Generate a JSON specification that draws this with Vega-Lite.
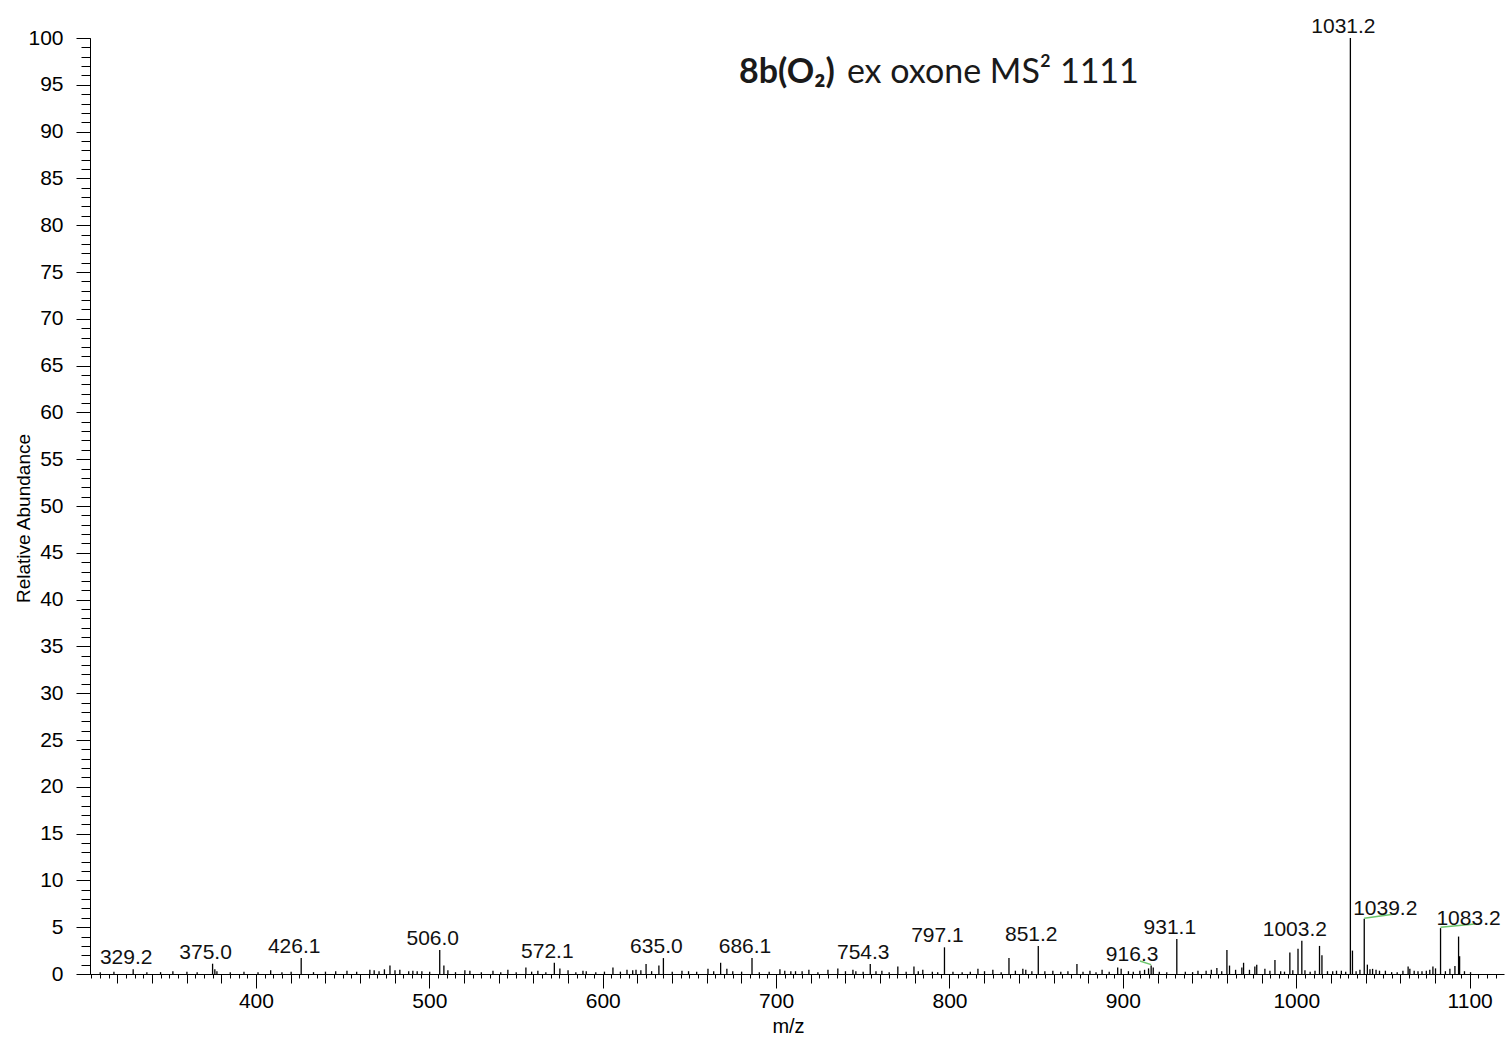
{
  "$schema": "https://vega.github.io/schema/vega-lite/v6.json",
  "width": 1414,
  "height": 936,
  "autosize": {"type": "none"},
  "padding": {"left": 90, "top": 38, "right": 4, "bottom": 66},
  "background": "white",
  "config": {
    "view": {"stroke": null},
    "axis": {
      "grid": false,
      "domainColor": "#000",
      "domainWidth": 1,
      "tickColor": "#000",
      "tickWidth": 1,
      "labelColor": "#000",
      "labelFont": "Liberation Sans",
      "labelFontSize": 21,
      "titleFont": "Liberation Sans",
      "titleFontSize": 20,
      "titleFontWeight": "normal",
      "titleColor": "#000",
      "labelFlush": false,
      "labelOverlap": false
    }
  },
  "datasets": {
    "peaks": [
      {"mz": 310.2, "ab": 0.2}, {"mz": 318.1, "ab": 0.25}, {"mz": 329.2, "ab": 0.5, "labeled": true},
      {"mz": 337.1, "ab": 0.2}, {"mz": 345.0, "ab": 0.2}, {"mz": 352.1, "ab": 0.3}, {"mz": 360.2, "ab": 0.25},
      {"mz": 366.1, "ab": 0.2}, {"mz": 375.0, "ab": 1.1, "labeled": true}, {"mz": 376.3, "ab": 0.5},
      {"mz": 377.5, "ab": 0.3}, {"mz": 385.2, "ab": 0.2}, {"mz": 393.1, "ab": 0.25}, {"mz": 401.2, "ab": 0.2},
      {"mz": 408.5, "ab": 0.4}, {"mz": 415.0, "ab": 0.2}, {"mz": 420.3, "ab": 0.25},
      {"mz": 426.1, "ab": 1.7, "labeled": true}, {"mz": 433.2, "ab": 0.2}, {"mz": 440.1, "ab": 0.25},
      {"mz": 446.0, "ab": 0.3}, {"mz": 452.5, "ab": 0.35}, {"mz": 458.1, "ab": 0.25}, {"mz": 465.7, "ab": 0.45},
      {"mz": 468.2, "ab": 0.4}, {"mz": 471.0, "ab": 0.3}, {"mz": 474.1, "ab": 0.5}, {"mz": 477.3, "ab": 0.9},
      {"mz": 480.2, "ab": 0.4}, {"mz": 483.0, "ab": 0.45}, {"mz": 488.1, "ab": 0.3}, {"mz": 490.5, "ab": 0.35},
      {"mz": 493.0, "ab": 0.3}, {"mz": 495.7, "ab": 0.3}, {"mz": 500.2, "ab": 0.25},
      {"mz": 506.0, "ab": 2.56, "labeled": true}, {"mz": 508.4, "ab": 0.9}, {"mz": 510.7, "ab": 0.4},
      {"mz": 515.1, "ab": 0.2}, {"mz": 520.5, "ab": 0.4}, {"mz": 523.4, "ab": 0.35}, {"mz": 530.0, "ab": 0.2},
      {"mz": 536.7, "ab": 0.35}, {"mz": 541.2, "ab": 0.2}, {"mz": 545.3, "ab": 0.45}, {"mz": 550.1, "ab": 0.2},
      {"mz": 555.7, "ab": 0.7}, {"mz": 559.0, "ab": 0.25}, {"mz": 562.6, "ab": 0.35}, {"mz": 567.2, "ab": 0.2},
      {"mz": 572.1, "ab": 1.2, "labeled": true}, {"mz": 575.3, "ab": 0.6}, {"mz": 580.0, "ab": 0.4},
      {"mz": 584.5, "ab": 0.2}, {"mz": 588.6, "ab": 0.35}, {"mz": 590.5, "ab": 0.3}, {"mz": 596.0, "ab": 0.2},
      {"mz": 601.0, "ab": 0.25}, {"mz": 605.9, "ab": 0.7}, {"mz": 610.2, "ab": 0.25}, {"mz": 614.0, "ab": 0.45},
      {"mz": 617.3, "ab": 0.4}, {"mz": 619.2, "ab": 0.45}, {"mz": 622.0, "ab": 0.4}, {"mz": 625.0, "ab": 1.07},
      {"mz": 628.2, "ab": 0.3}, {"mz": 632.4, "ab": 0.9}, {"mz": 635.0, "ab": 1.7, "labeled": true},
      {"mz": 640.1, "ab": 0.25}, {"mz": 645.7, "ab": 0.35}, {"mz": 649.5, "ab": 0.3}, {"mz": 654.2, "ab": 0.25},
      {"mz": 660.7, "ab": 0.55}, {"mz": 664.0, "ab": 0.3}, {"mz": 668.0, "ab": 1.2}, {"mz": 671.6, "ab": 0.55},
      {"mz": 675.0, "ab": 0.3}, {"mz": 680.1, "ab": 0.25}, {"mz": 686.1, "ab": 1.7, "labeled": true},
      {"mz": 690.3, "ab": 0.2}, {"mz": 696.0, "ab": 0.25}, {"mz": 702.2, "ab": 0.5}, {"mz": 705.0, "ab": 0.35},
      {"mz": 708.5, "ab": 0.3}, {"mz": 711.2, "ab": 0.3}, {"mz": 715.0, "ab": 0.3}, {"mz": 718.9, "ab": 0.45},
      {"mz": 724.1, "ab": 0.2}, {"mz": 729.9, "ab": 0.45}, {"mz": 735.6, "ab": 0.6}, {"mz": 740.0, "ab": 0.3},
      {"mz": 744.3, "ab": 0.45}, {"mz": 746.0, "ab": 0.3}, {"mz": 750.2, "ab": 0.25},
      {"mz": 754.3, "ab": 1.07, "labeled": true}, {"mz": 757.6, "ab": 0.3}, {"mz": 761.0, "ab": 0.35},
      {"mz": 765.2, "ab": 0.2}, {"mz": 770.2, "ab": 0.8}, {"mz": 775.0, "ab": 0.25}, {"mz": 779.5, "ab": 0.8},
      {"mz": 782.0, "ab": 0.3}, {"mz": 784.6, "ab": 0.45}, {"mz": 790.1, "ab": 0.25}, {"mz": 793.2, "ab": 0.2},
      {"mz": 797.1, "ab": 2.85, "labeled": true}, {"mz": 802.0, "ab": 0.25}, {"mz": 807.3, "ab": 0.2},
      {"mz": 812.0, "ab": 0.25}, {"mz": 816.4, "ab": 0.55}, {"mz": 820.2, "ab": 0.3}, {"mz": 825.0, "ab": 0.45},
      {"mz": 829.8, "ab": 0.2}, {"mz": 834.3, "ab": 1.7}, {"mz": 838.0, "ab": 0.35}, {"mz": 842.3, "ab": 0.55},
      {"mz": 844.0, "ab": 0.45}, {"mz": 847.5, "ab": 0.3}, {"mz": 851.2, "ab": 3.0, "labeled": true},
      {"mz": 855.0, "ab": 0.3}, {"mz": 859.6, "ab": 0.35}, {"mz": 864.2, "ab": 0.25}, {"mz": 868.3, "ab": 0.3},
      {"mz": 873.5, "ab": 1.07}, {"mz": 877.0, "ab": 0.25}, {"mz": 881.0, "ab": 0.35}, {"mz": 884.5, "ab": 0.2},
      {"mz": 888.0, "ab": 0.45}, {"mz": 892.1, "ab": 0.25}, {"mz": 897.0, "ab": 0.7}, {"mz": 899.0, "ab": 0.55},
      {"mz": 903.2, "ab": 0.3}, {"mz": 906.0, "ab": 0.25}, {"mz": 909.8, "ab": 0.35}, {"mz": 912.5, "ab": 0.45},
      {"mz": 914.8, "ab": 0.6}, {"mz": 916.3, "ab": 0.9, "labeled": true}, {"mz": 917.5, "ab": 0.7},
      {"mz": 921.0, "ab": 0.25}, {"mz": 925.3, "ab": 0.2}, {"mz": 931.1, "ab": 3.74, "labeled": true},
      {"mz": 936.0, "ab": 0.25}, {"mz": 940.2, "ab": 0.2}, {"mz": 943.3, "ab": 0.35}, {"mz": 948.0, "ab": 0.35},
      {"mz": 951.0, "ab": 0.45}, {"mz": 954.2, "ab": 0.65}, {"mz": 957.0, "ab": 0.3}, {"mz": 960.0, "ab": 2.56},
      {"mz": 961.5, "ab": 0.9}, {"mz": 965.0, "ab": 0.45}, {"mz": 968.6, "ab": 0.7}, {"mz": 969.6, "ab": 1.2},
      {"mz": 973.0, "ab": 0.45}, {"mz": 976.1, "ab": 0.8}, {"mz": 977.2, "ab": 1.0}, {"mz": 981.9, "ab": 0.55},
      {"mz": 984.8, "ab": 0.35}, {"mz": 987.7, "ab": 1.5}, {"mz": 991.0, "ab": 0.3}, {"mz": 993.2, "ab": 0.25},
      {"mz": 996.3, "ab": 2.3}, {"mz": 998.0, "ab": 0.4}, {"mz": 1001.0, "ab": 2.7},
      {"mz": 1003.2, "ab": 3.56, "labeled": true}, {"mz": 1005.0, "ab": 0.4}, {"mz": 1008.0, "ab": 0.25},
      {"mz": 1010.8, "ab": 0.35}, {"mz": 1013.4, "ab": 3.0}, {"mz": 1014.8, "ab": 2.0}, {"mz": 1018.0, "ab": 0.3},
      {"mz": 1021.0, "ab": 0.3}, {"mz": 1023.2, "ab": 0.35}, {"mz": 1026.0, "ab": 0.35}, {"mz": 1028.5, "ab": 0.25},
      {"mz": 1031.2, "ab": 100, "labeled": true}, {"mz": 1032.4, "ab": 2.5}, {"mz": 1034.5, "ab": 0.3},
      {"mz": 1036.7, "ab": 0.45}, {"mz": 1039.2, "ab": 5.9, "labeled": true}, {"mz": 1041.0, "ab": 1.0},
      {"mz": 1042.5, "ab": 0.5}, {"mz": 1044.0, "ab": 0.55}, {"mz": 1046.0, "ab": 0.45}, {"mz": 1048.0, "ab": 0.35},
      {"mz": 1051.4, "ab": 0.35}, {"mz": 1055.0, "ab": 0.2}, {"mz": 1058.2, "ab": 0.2}, {"mz": 1061.5, "ab": 0.35},
      {"mz": 1064.5, "ab": 0.8}, {"mz": 1065.5, "ab": 0.55}, {"mz": 1068.0, "ab": 0.35}, {"mz": 1070.2, "ab": 0.3},
      {"mz": 1072.5, "ab": 0.3}, {"mz": 1075.0, "ab": 0.35}, {"mz": 1077.0, "ab": 0.45}, {"mz": 1078.8, "ab": 0.8},
      {"mz": 1080.3, "ab": 0.6}, {"mz": 1083.2, "ab": 4.9, "labeled": true}, {"mz": 1086.0, "ab": 0.3},
      {"mz": 1088.6, "ab": 0.55}, {"mz": 1091.5, "ab": 0.85}, {"mz": 1093.6, "ab": 4.0}, {"mz": 1094.2, "ab": 1.9},
      {"mz": 1097.0, "ab": 0.3}, {"mz": 1100.5, "ab": 0.2}
    ],
    "leaders": [
      {"mz": 909.8, "ab": 1.39, "mz2": 916.3, "ab2": 1.0},
      {"mz": 1039.2, "ab": 5.95, "mz2": 1056.9, "ab2": 6.4},
      {"mz": 1083.2, "ab": 5.0, "mz2": 1103.0, "ab2": 5.34}
    ]
  },
  "resolve": {"axis": {"x": "independent", "y": "independent"}},
  "layer": [
    {
      "data": {"name": "peaks"},
      "mark": {"type": "rule", "color": "#000", "strokeWidth": 1.3},
      "encoding": {
        "x": {
          "field": "mz", "type": "quantitative",
          "scale": {"domain": [304.3, 1119.8], "nice": false, "zero": false},
          "axis": {
            "orient": "bottom",
            "values": [400, 500, 600, 700, 800, 900, 1000, 1100],
            "format": "d",
            "tickSize": 14,
            "labelPadding": 2,
            "title": "m/z",
            "titleX": 698,
            "titleY": 52,
            "titleAlign": "center",
            "titleBaseline": "middle"
          }
        },
        "y": {
          "field": "ab", "type": "quantitative",
          "scale": {"domain": [0, 100], "nice": false},
          "axis": {
            "orient": "left",
            "values": [0, 5, 10, 15, 20, 25, 30, 35, 40, 45, 50, 55, 60, 65, 70, 75, 80, 85, 90, 95, 100],
            "format": "d",
            "tickSize": 14,
            "labelPadding": 13,
            "title": "Relative Abundance",
            "titleFontSize": 19,
            "titleAngle": -90,
            "titleX": -67,
            "titleY": 480,
            "titleAlign": "center",
            "titleBaseline": "middle"
          }
        },
        "y2": {"datum": 0}
      }
    },
    {
      "data": {"name": "peaks"},
      "transform": [
        {"filter": "datum.labeled === true && datum.mz !== 916.3 && datum.mz !== 1039.2 && datum.mz !== 1083.2"}
      ],
      "mark": {"type": "text", "font": "Liberation Sans", "fontSize": 21, "color": "#111", "align": "center", "baseline": "alphabetic", "dx": -7, "dy": -5},
      "encoding": {
        "x": {
          "field": "mz", "type": "quantitative",
          "scale": {"domain": [304.3, 1119.8], "nice": false, "zero": false},
          "axis": {
            "orient": "bottom",
            "values": [320, 340, 360, 380, 400, 420, 440, 460, 480, 500, 520, 540, 560, 580, 600, 620, 640, 660, 680, 700, 720, 740, 760, 780, 800, 820, 840, 860, 880, 900, 920, 940, 960, 980, 1000, 1020, 1040, 1060, 1080, 1100],
            "tickSize": 9,
            "labels": false,
            "domain": false,
            "title": null
          }
        },
        "y": {
          "field": "ab", "type": "quantitative",
          "scale": {"domain": [0, 100], "nice": false},
          "axis": {
            "orient": "left",
            "values": [0, 1, 2, 3, 4, 5, 6, 7, 8, 9, 10, 11, 12, 13, 14, 15, 16, 17, 18, 19, 20, 21, 22, 23, 24, 25, 26, 27, 28, 29, 30, 31, 32, 33, 34, 35, 36, 37, 38, 39, 40, 41, 42, 43, 44, 45, 46, 47, 48, 49, 50, 51, 52, 53, 54, 55, 56, 57, 58, 59, 60, 61, 62, 63, 64, 65, 66, 67, 68, 69, 70, 71, 72, 73, 74, 75, 76, 77, 78, 79, 80, 81, 82, 83, 84, 85, 86, 87, 88, 89, 90, 91, 92, 93, 94, 95, 96, 97, 98, 99, 100],
            "tickSize": 9,
            "labels": false,
            "domain": false,
            "title": null
          }
        },
        "text": {"field": "mz", "type": "quantitative", "format": ".1f"}
      }
    },
    {
      "data": {"name": "leaders"},
      "mark": {"type": "rule", "color": "#6cc66c", "strokeWidth": 1.5},
      "encoding": {
        "x": {
          "field": "mz", "type": "quantitative",
          "scale": {"domain": [304.3, 1119.8], "nice": false, "zero": false},
          "axis": {
            "orient": "bottom",
            "values": [305, 310, 315, 320, 325, 330, 335, 340, 345, 350, 355, 360, 365, 370, 375, 380, 385, 390, 395, 400, 405, 410, 415, 420, 425, 430, 435, 440, 445, 450, 455, 460, 465, 470, 475, 480, 485, 490, 495, 500, 505, 510, 515, 520, 525, 530, 535, 540, 545, 550, 555, 560, 565, 570, 575, 580, 585, 590, 595, 600, 605, 610, 615, 620, 625, 630, 635, 640, 645, 650, 655, 660, 665, 670, 675, 680, 685, 690, 695, 700, 705, 710, 715, 720, 725, 730, 735, 740, 745, 750, 755, 760, 765, 770, 775, 780, 785, 790, 795, 800, 805, 810, 815, 820, 825, 830, 835, 840, 845, 850, 855, 860, 865, 870, 875, 880, 885, 890, 895, 900, 905, 910, 915, 920, 925, 930, 935, 940, 945, 950, 955, 960, 965, 970, 975, 980, 985, 990, 995, 1000, 1005, 1010, 1015, 1020, 1025, 1030, 1035, 1040, 1045, 1050, 1055, 1060, 1065, 1070, 1075, 1080, 1085, 1090, 1095, 1100, 1105, 1110, 1115],
            "tickSize": 4,
            "labels": false,
            "domain": false,
            "title": null
          }
        },
        "x2": {"field": "mz2"},
        "y": {
          "field": "ab", "type": "quantitative",
          "scale": {"domain": [0, 100], "nice": false},
          "axis": null
        },
        "y2": {"field": "ab2"}
      }
    },
    {
      "data": {"name": "peaks"},
      "transform": [{"filter": "datum.mz === 916.3"}],
      "mark": {"type": "text", "font": "Liberation Sans", "fontSize": 21, "color": "#111", "align": "center", "baseline": "alphabetic", "dx": -19, "dy": -5},
      "encoding": {
        "x": {"field": "mz", "type": "quantitative", "scale": {"domain": [304.3, 1119.8], "nice": false, "zero": false}, "axis": null},
        "y": {"field": "ab", "type": "quantitative", "scale": {"domain": [0, 100], "nice": false}, "axis": null},
        "text": {"field": "mz", "type": "quantitative", "format": ".1f"}
      }
    },
    {
      "data": {"name": "peaks"},
      "transform": [{"filter": "datum.mz === 1039.2"}],
      "mark": {"type": "text", "font": "Liberation Sans", "fontSize": 21, "color": "#111", "align": "center", "baseline": "alphabetic", "dx": 21, "dy": -4},
      "encoding": {
        "x": {"field": "mz", "type": "quantitative", "scale": {"domain": [304.3, 1119.8], "nice": false, "zero": false}, "axis": null},
        "y": {"field": "ab", "type": "quantitative", "scale": {"domain": [0, 100], "nice": false}, "axis": null},
        "text": {"field": "mz", "type": "quantitative", "format": ".1f"}
      }
    },
    {
      "data": {"name": "peaks"},
      "transform": [{"filter": "datum.mz === 1083.2"}],
      "mark": {"type": "text", "font": "Liberation Sans", "fontSize": 21, "color": "#111", "align": "center", "baseline": "alphabetic", "dx": 28, "dy": -3},
      "encoding": {
        "x": {"field": "mz", "type": "quantitative", "scale": {"domain": [304.3, 1119.8], "nice": false, "zero": false}, "axis": null},
        "y": {"field": "ab", "type": "quantitative", "scale": {"domain": [0, 100], "nice": false}, "axis": null},
        "text": {"field": "mz", "type": "quantitative", "format": ".1f"}
      }
    },
    {
      "data": {"values": [{"t": "8b(O₂)"}]},
      "mark": {"type": "text", "font": "Lato", "fontSize": 34, "fontWeight": "bold", "color": "#1a1a1a", "align": "right", "baseline": "alphabetic"},
      "encoding": {
        "x": {"datum": 733.9, "type": "quantitative", "scale": {"domain": [304.3, 1119.8], "nice": false, "zero": false}, "axis": null},
        "y": {"datum": 95.2, "type": "quantitative", "scale": {"domain": [0, 100], "nice": false}, "axis": null},
        "text": {"field": "t"}
      }
    },
    {
      "data": {"values": [{"t": "ex oxone MS² 1111"}]},
      "mark": {"type": "text", "font": "Lato", "fontSize": 34, "color": "#1a1a1a", "align": "left", "baseline": "alphabetic", "dx": 12},
      "encoding": {
        "x": {"datum": 733.9, "type": "quantitative", "scale": {"domain": [304.3, 1119.8], "nice": false, "zero": false}, "axis": null},
        "y": {"datum": 95.2, "type": "quantitative", "scale": {"domain": [0, 100], "nice": false}, "axis": null},
        "text": {"field": "t"}
      }
    }
  ]
}
